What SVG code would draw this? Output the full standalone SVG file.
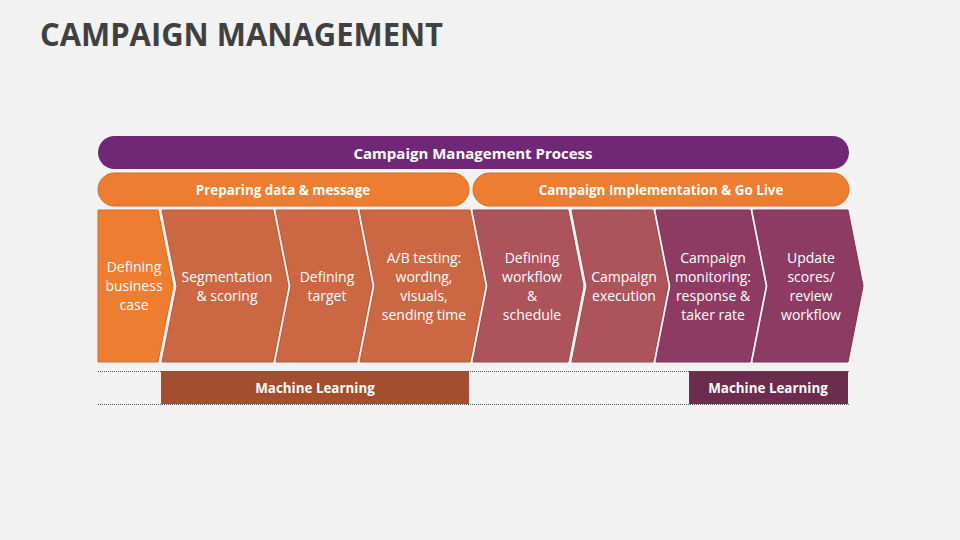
<svg xmlns="http://www.w3.org/2000/svg" width="960" height="540" viewBox="0 0 960 540">
<style>
.t{font-family:"Open Sans","Noto Sans","Liberation Sans",sans-serif;fill:#fff;font-size:14px;text-anchor:middle}
.b{font-weight:bold}
.h{font-size:13.4px}
.o{fill:#ED7D31;stroke:#D96C26;stroke-width:1}
.c2{fill:#CB6843;stroke:#B95A37;stroke-width:1}
.c5{fill:#AD535A;stroke:#9C474E;stroke-width:1}
.c7{fill:#8E3B64;stroke:#7E3157;stroke-width:1}
.dot{stroke:#595959;stroke-width:1;stroke-dasharray:1 1;fill:none}
</style>
<rect width="960" height="540" fill="#F2F2F2"/>
<text x="40" y="46" font-family="'Open Sans','Noto Sans','Liberation Sans',sans-serif" font-weight="bold" font-size="32" fill="#404040" textLength="403" lengthAdjust="spacingAndGlyphs">CAMPAIGN MANAGEMENT</text>

<g id="process">
<rect x="98" y="136" width="751" height="33" rx="16.5" fill="#702775"/>
<text class="t b" x="473" y="158.5" font-size="15" style="font-size:15px">Campaign Management Process</text>
</g>
<g id="phase-prepare">
<rect class="o" x="98" y="173" width="371" height="33" rx="16.5"/>
<text class="t b h" x="283" y="194.5">Preparing data &amp; message</text>
</g>
<g id="phase-implement">
<rect class="o" x="473" y="173" width="376" height="33" rx="16.5"/>
<text class="t b h" x="661" y="194.5">Campaign Implementation &amp; Go Live</text>
</g>

<g id="step1">
<path class="o" d="M98,210 L158,210 L173,286 L158,362 L98,362 Z"/>
<text class="t" x="134" y="272">Defining</text>
<text class="t" x="134" y="291">business</text>
<text class="t" x="134" y="310">case</text>
</g>
<g id="step2">
<path class="c2" d="M162,210 L273,210 L288,286 L273,362 L162,362 L177,286 Z"/>
<text class="t" x="227" y="282">Segmentation</text>
<text class="t" x="227" y="301">&amp; scoring</text>
</g>
<g id="step3">
<path class="c2" d="M276,210 L357,210 L372,286 L357,362 L276,362 L291,286 Z"/>
<text class="t" x="327" y="282">Defining</text>
<text class="t" x="327" y="301">target</text>
</g>
<g id="step4">
<path class="c2" d="M360,210 L470,210 L485,286 L470,362 L360,362 L375,286 Z"/>
<text class="t" x="424" y="263">A/B testing:</text>
<text class="t" x="424" y="282">wording,</text>
<text class="t" x="424" y="301">visuals,</text>
<text class="t" x="424" y="320">sending time</text>
</g>
<g id="step5">
<path class="c5" d="M473,210 L568,210 L583,286 L568,362 L473,362 L488,286 Z"/>
<text class="t" x="532" y="263">Defining</text>
<text class="t" x="532" y="282">workflow</text>
<text class="t" x="532" y="301">&amp;</text>
<text class="t" x="532" y="320">schedule</text>
</g>
<g id="step6">
<path class="c5" d="M572,210 L653,210 L668,286 L653,362 L572,362 L587,286 Z"/>
<text class="t" x="624" y="282">Campaign</text>
<text class="t" x="624" y="301">execution</text>
</g>
<g id="step7">
<path class="c7" d="M656,210 L750,210 L765,286 L750,362 L656,362 L671,286 Z"/>
<text class="t" x="713" y="263">Campaign</text>
<text class="t" x="713" y="282">monitoring:</text>
<text class="t" x="713" y="301">response &amp;</text>
<text class="t" x="713" y="320">taker rate</text>
</g>
<g id="step8">
<path class="c7" d="M753,210 L848,210 L863,286 L848,362 L753,362 L768,286 Z"/>
<text class="t" x="811" y="263">Update</text>
<text class="t" x="811" y="282">scores/</text>
<text class="t" x="811" y="301">review</text>
<text class="t" x="811" y="320">workflow</text>
</g>

<g id="ml-left">
<rect x="161" y="371" width="308" height="33" fill="#A34E2E"/>
<text class="t b h" x="315" y="392.5">Machine Learning</text>
</g>
<g id="ml-right">
<rect x="689" y="371" width="159" height="33" fill="#6B2C4D"/>
<text class="t b h" x="768" y="392.5">Machine Learning</text>
</g>
<g id="connectors">
<line class="dot" x1="98" y1="371.5" x2="849" y2="371.5"/>
<line class="dot" x1="98" y1="404.5" x2="849" y2="404.5"/>
</g>
</svg>
